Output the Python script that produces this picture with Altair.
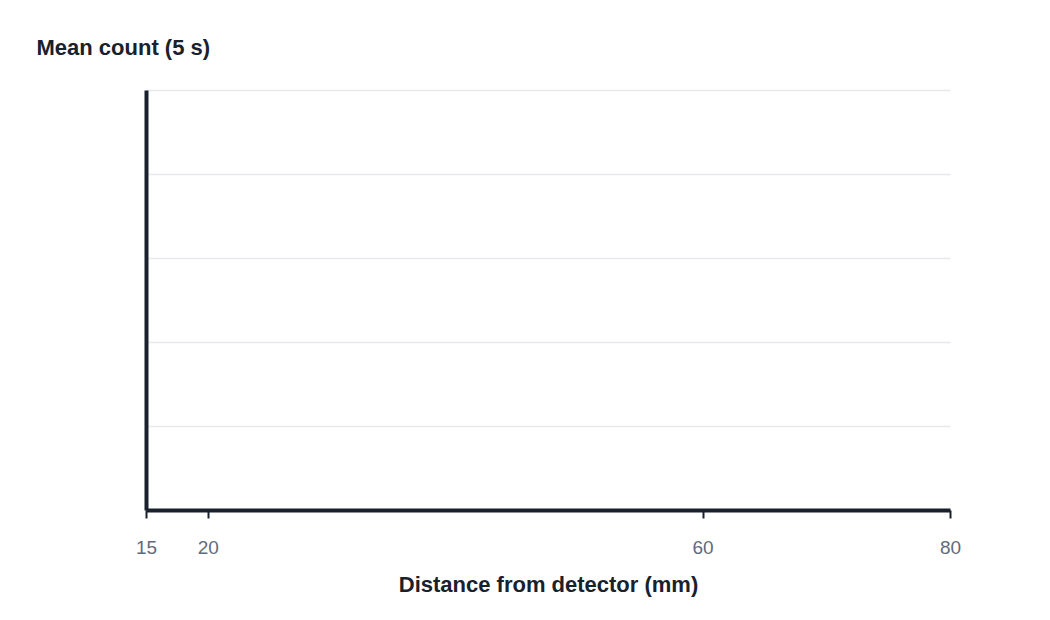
import altair as alt
import pandas as pd

# The reference chart shows no data points: only the axes frame.
distance_mm = []
mean_count = []
x_ticks = [15, 20, 60, 80]
y_grid = [0, 1, 2, 3, 4, 5]

df = pd.DataFrame({"distance": pd.Series(distance_mm, dtype=float),
                   "count": pd.Series(mean_count, dtype=float)})

DARK = "#18212c"
GREY = "#5f6b7b"
GRID = "#e5e8ef"
FONT = "Liberation Sans"

chart = (
    alt.Chart(df)
    .mark_point(opacity=0)
    .encode(
        x=alt.X(
            "distance:Q",
            scale=alt.Scale(domain=[15, 80], nice=False, zero=False),
            axis=alt.Axis(
                values=x_ticks,
                title="Distance from detector (mm)",
                grid=False,
                domainColor=DARK,
                domainWidth=4,
                tickColor=DARK,
                tickWidth=2,
                tickSize=8,
                labelColor=GREY,
                labelFontSize=19,
                labelFont=FONT,
                labelPadding=20,
                titleFont=FONT,
                titleFontSize=22,
                titleFontWeight="bold",
                titleColor=DARK,
                titlePadding=17,
                labelFlush=False,
            ),
        ),
        y=alt.Y(
            "count:Q",
            scale=alt.Scale(domain=[0, 5], nice=False),
            axis=alt.Axis(
                values=y_grid,
                labels=False,
                ticks=False,
                title="Mean count (5 s)",
                titleAngle=0,
                titleAlign="left",
                titleBaseline="alphabetic",
                titleX=-110,
                titleY=-36,
                titleFont=FONT,
                titleFontSize=22,
                titleFontWeight="bold",
                titleColor=DARK,
                domainColor=DARK,
                domainWidth=4,
                grid=True,
                gridColor=GRID,
                gridWidth=1.5,
            ),
        ),
    )
    .properties(
        width=804,
        height=420,
        autosize=alt.AutoSizeParams(type="none"),
        padding={"left": 146, "top": 90, "right": 100, "bottom": 110},
    )
    .configure(background="white")
    .configure_view(stroke=None)
)

chart.save("out.html", embed_options={"renderer": "svg", "actions": False})
